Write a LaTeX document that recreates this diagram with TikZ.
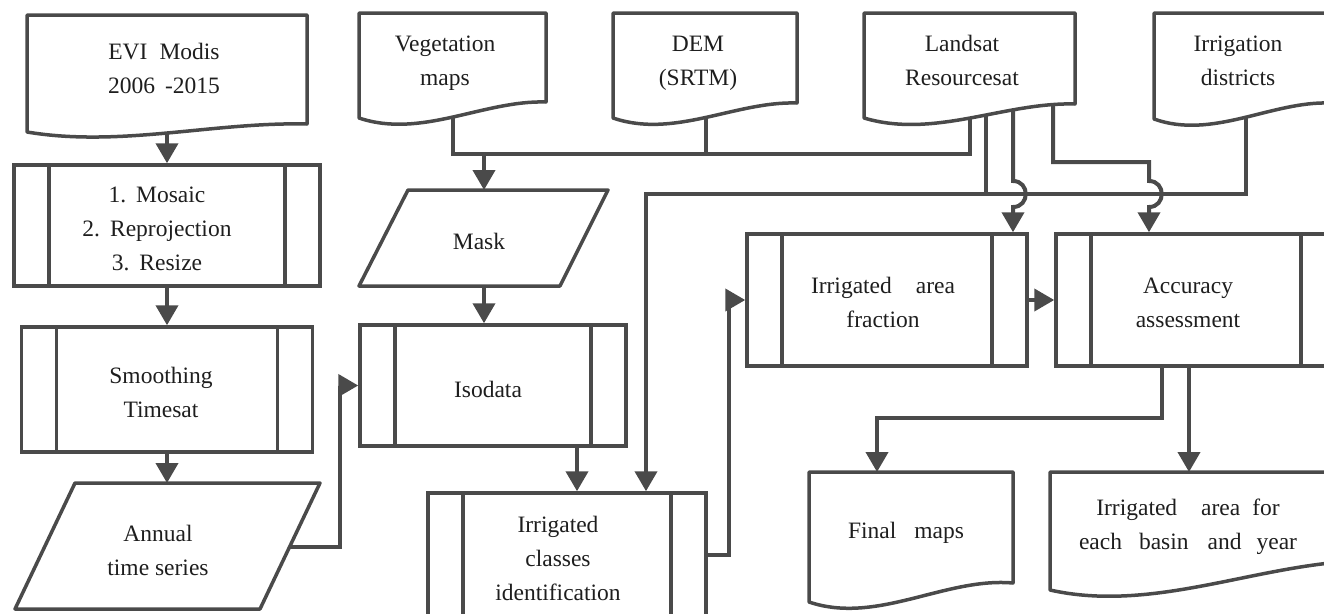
\documentclass[tikz,border=0pt]{standalone}
\usepackage{fontspec}
\setmainfont{Liberation Serif}
\usetikzlibrary{arrows.meta,calc}
\definecolor{lc}{HTML}{4A4A4A}
\definecolor{tc}{HTML}{1E1E1E}
% document outline: x0 y0 x1 yLeftBottom yRightBottom dip rise
\newcommand\mydoc[7]{\draw[shapeline] (#1,#4) -- (#1,#2) -- (#3,#2) -- (#3,#5)
  .. controls ({#1+2*(#3-#1)/3},{#4-#7}) and ({#1+(#3-#1)/3},{#4+#6}) .. (#1,#4) -- cycle;}
% parallelogram: xTL xTR yT xBL xBR yB
\newcommand\mypara[6]{\draw[shapeline] (#1,#3) -- (#2,#3) -- (#5,#6) -- (#4,#6) -- cycle;}
\begin{document}
\begin{tikzpicture}[x=1pt,y=-1pt,
  shapeline/.style={draw=lc, line width=3.5pt, line join=round},
  proc/.style={draw=lc, line width=3.5pt, inner sep=0pt, rectangle,
    path picture={\draw[lc, line width=3.5pt]
      ([xshift=35pt]path picture bounding box.north west) -- ([xshift=35pt]path picture bounding box.south west)
      ([xshift=-35pt]path picture bounding box.north east) -- ([xshift=-35pt]path picture bounding box.south east);}},
  txt/.style={text=tc, font=\fontsize{23.5}{34}\selectfont, align=center, inner sep=0pt},
  conn/.style={draw=lc, line width=4pt},
  arr/.style={conn, -{Triangle[length=20pt,width=22pt]}}
]
\clip (0,0) rectangle (1324,613);

% ---------- document shapes ----------
\mydoc{27}{15}{307}{132}{124}{15.6}{10.2}
\mydoc{359}{13}{546}{118}{102}{21}{18}
\mydoc{613}{13}{797}{118}{103}{21}{17}
\mydoc{864}{13}{1075}{118}{104}{21}{16}
\mydoc{1154}{13}{1330}{119}{103}{21}{18}
\mydoc{809}{472}{1013}{602}{583}{23}{25}
\mydoc{1050}{472}{1330}{590}{563}{21}{17}

% ---------- parallelograms ----------
\mypara{75}{320}{483}{15}{260}{609}
\mypara{408}{608}{190}{359}{560}{286}

% ---------- process boxes ----------
\node[proc, minimum width=306pt, minimum height=121pt] (proc1) at (167,225.5) {};
\node[proc, minimum width=291pt, minimum height=125pt] (smooth) at (167,389.5) {};
\node[proc, minimum width=266pt, minimum height=121pt] (iso) at (493,385.5) {};
\node[proc, minimum width=278pt, minimum height=124pt] (irrc) at (567,555) {};
\node[proc, minimum width=280pt, minimum height=132pt] (iafr) at (887,300) {};
\node[proc, minimum width=280pt, minimum height=132pt] (acc) at (1196,300) {};

% ---------- texts ----------
\node[txt] (evi-t) at (164,68.5) {EVI\hspace{12pt}Modis\\2006\hspace{10pt}-2015};
\node[txt] (veg-t) at (445,63.5) {Vegetation\\maps};
\node[txt] (dem-t) at (698,63) {DEM\\(SRTM)};
\node[txt] (land-t) at (962,60.7) {Landsat\\Resourcesat};
\node[txt] (irrd-t) at (1238,60.7) {Irrigation\\districts};
\node[txt] (proc1-t) at (157,229) {1.\hspace{10pt}Mosaic\\2.\hspace{10pt}Reprojection\\3.\hspace{10pt}Resize};
\node[txt] (smooth-t) at (161,392) {Smoothing\\Timesat};
\node[txt] (ann-t) at (158,550) {Annual\\time series};
\node[txt] (mask-t) at (479,241) {Mask};
\node[txt] (iso-t) at (488,389) {Isodata};
\node[txt] (irrc-t) at (558,558) {Irrigated\\classes\\identification};
\node[txt] (iafr-t) at (883,302) {Irrigated\hspace{24pt}area\\fraction};
\node[txt] (acc-t) at (1188,302.5) {Accuracy\\assessment};
\node[txt] (final-t) at (906,533) {Final\hspace{18pt}maps};
\node[txt] (iaf-t) at (1188,527) {Irrigated\hspace{24pt}area\hspace{12pt}for\\each\hspace{17pt}basin\hspace{19pt}and\hspace{15pt}year};

% ---------- connector end points ----------
\coordinate (evi-out) at (167,133);
\coordinate (ann-in) at (167,483);
\coordinate (ann-out) at (290,547);
\coordinate (veg-out) at (453,117);
\coordinate (dem-out) at (706,117);
\coordinate (land-o1) at (970,118);
\coordinate (land-o2) at (986,116);
\coordinate (land-o3) at (1013,110);
\coordinate (land-o4) at (1053,105);
\coordinate (irr-out) at (1246,117);
\coordinate (bus1) at (700,154);
\coordinate (bus2) at (646,194);
\coordinate (mask-in) at (484,190);
\coordinate (mask-out) at (484,286);
\coordinate (hopC) at (1013,194);
\coordinate (turnD) at (1149,162);
\coordinate (hopD) at (1149,194);
\coordinate (acc-o1) at (1162,366);
\coordinate (acc-o2) at (1189,366);
\coordinate (final-in) at (877,472);
\coordinate (iaf-in) at (1189,472);

% ---------- connectors ----------
\draw[arr] (evi-out) -- (proc1.north);
\draw[arr] (proc1.south) -- (proc1.south |- smooth.north);
\draw[arr] (smooth.south) -- (ann-in);
\draw[arr] (ann-out) -- ++(50,0) |- (iso.west);
\draw[conn] (veg-out) |- (bus1) -| (land-o1);
\draw[conn] (dem-out) -- (dem-out |- bus1);
\draw[arr] (mask-in |- bus1) -- (mask-in);
\draw[arr] (mask-out) -- (mask-out |- iso.north);
\draw[arr] ([xshift=84pt]iso.south) -- ([xshift=84pt]iso.south |- irrc.north);
\draw[conn] (irr-out) |- (bus2);
\draw[arr] (land-o2) |- (bus2) -- (bus2 |- irrc.north);
\draw[arr] (land-o3) -- ($(hopC)+(0,-13)$) .. controls +(17,0) and +(17,0) .. ($(hopC)+(0,13)$) -- (hopC |- iafr.north);
\draw[arr] (land-o4) |- (turnD) -- ($(hopD)+(0,-13)$) .. controls +(17,0) and +(17,0) .. ($(hopD)+(0,13)$) -- (hopD |- acc.north);
\draw[arr] (irrc.east) -- ++(21,0) |- (iafr.west);
\draw[arr] (iafr.east) -- (acc.west);
\draw[arr] (acc-o1) -- ++(0,52) -| (final-in);
\draw[arr] (acc-o2) -- (iaf-in);
\end{tikzpicture}
\end{document}
